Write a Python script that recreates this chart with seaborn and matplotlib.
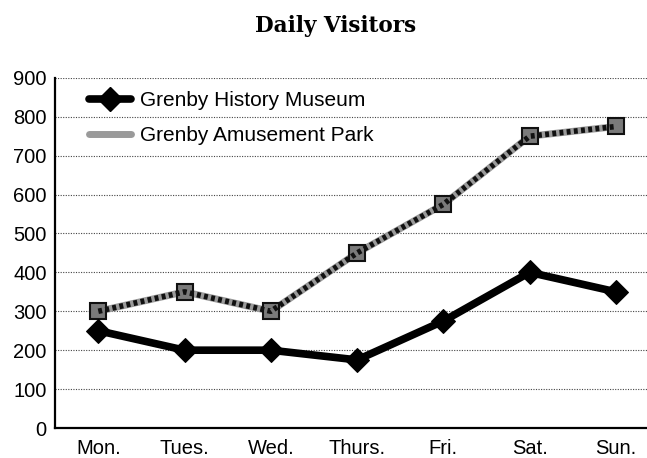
import matplotlib
matplotlib.use("Agg")
import matplotlib.pyplot as plt
from matplotlib.lines import Line2D
import seaborn as sns
import pandas as pd

days = ["Mon.", "Tues.", "Wed.", "Thurs.", "Fri.", "Sat.", "Sun."]
museum = [250, 200, 200, 175, 275, 400, 350]
park = [300, 350, 300, 450, 575, 750, 775]
series_names = ["Grenby History Museum", "Grenby Amusement Park"]
y_ticks = [0, 100, 200, 300, 400, 500, 600, 700, 800, 900]

museum_df = pd.DataFrame({"day": range(len(days)), "visitors": museum})
park_df = pd.DataFrame({"day": range(len(days)), "visitors": park})

sns.set_theme(style="white")
plt.rcParams["font.family"] = ["Liberation Sans", "DejaVu Sans"]
plt.rcParams["text.color"] = "black"

fig = plt.figure(figsize=(6.47, 4.58), dpi=100)
ax = fig.add_axes([0.085, 0.0655, 0.915, 0.7645])

# amusement park: grey line with a black speckled overlay
sns.lineplot(data=park_df, x="day", y="visitors", color="#9a9a9a",
             linewidth=5, marker="s", markersize=11,
             markerfacecolor="#7a7a7a", markeredgecolor="#111111",
             markeredgewidth=1.5, ax=ax, zorder=3)
sns.lineplot(data=park_df, x="day", y="visitors", color="#111111",
             linewidth=4, linestyle=(0, (0.7, 0.6)), ax=ax, zorder=4)

# history museum: thick black line with diamonds
sns.lineplot(data=museum_df, x="day", y="visitors", color="black",
             linewidth=5.5, marker="D", markersize=12,
             markerfacecolor="black", markeredgecolor="black", ax=ax, zorder=5)

ax.set_xlim(-0.502, 6.36)
ax.set_ylim(0, 900)
ax.set_xticks(range(len(days)))
ax.set_xticklabels(days, fontsize=14.5)
ax.set_yticks(y_ticks)
ax.set_yticklabels([str(v) for v in y_ticks], fontsize=14.5)
ax.set_xlabel("")
ax.set_ylabel("")

for v in y_ticks[1:]:
    ax.axhline(v, color="#444444", linewidth=0.8, linestyle=(0, (1, 1.3)), zorder=0)

for side in ["top", "right"]:
    ax.spines[side].set_visible(False)
for side in ["left", "bottom"]:
    ax.spines[side].set_color("black")
    ax.spines[side].set_linewidth(1.6)

ax.tick_params(axis="x", direction="in", length=5, width=1, color="black", pad=8)
ax.tick_params(axis="y", direction="in", length=6, width=1.5, color="black", pad=6)
ax.tick_params(labelcolor="black")

handles = [
    Line2D([], [], color="black", linewidth=5.5, marker="D", markersize=12),
    Line2D([], [], color="#9a9a9a", linewidth=5),
]
ax.legend(handles, series_names, loc="upper left", bbox_to_anchor=(0.035, 1.0),
          frameon=False, fontsize=15, handlelength=2.0, handletextpad=0.45,
          labelspacing=0.75, borderaxespad=0.25, labelcolor="black")

fig.suptitle("Daily Visitors", x=0.518, y=0.968, fontsize=15.5,
             fontweight="bold", family=["DejaVu Serif"], color="black")

fig.savefig("out.png", dpi=100)
